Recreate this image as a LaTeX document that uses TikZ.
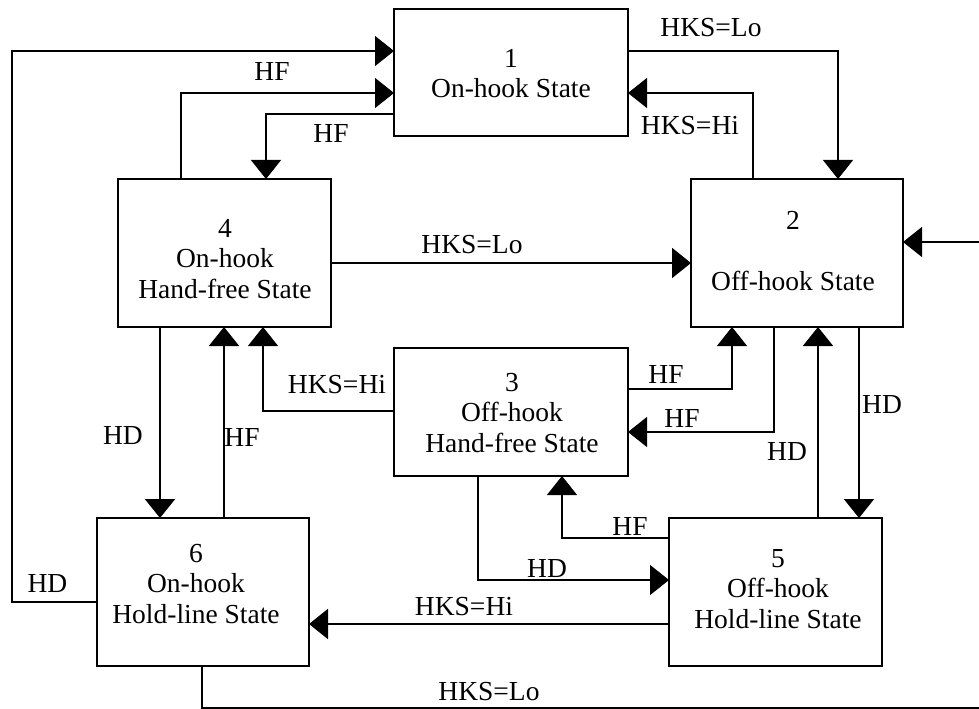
\documentclass[tikz,border=0pt]{standalone}
\usepackage{fontspec}
\setmainfont{Liberation Serif}
\usetikzlibrary{arrows.meta}
\begin{document}
\begin{tikzpicture}[x=1bp,y=-1bp,
  state/.style={draw, rectangle, line width=1.2bp, inner sep=0pt, outer sep=0pt},
  stxt/.style={align=center, anchor=base, inner sep=0pt, font=\fontsize{27.5bp}{30.3bp}\selectfont},
  lbl/.style={anchor=base, inner sep=0pt, font=\fontsize{27.5bp}{30.3bp}\selectfont},
  conn/.style={line width=1.1bp, -{Triangle[length=19bp,width=30bp]}},
  conn2/.style={conn, line width=2bp}]
\useasboundingbox (0,0) rectangle (979,709);
% states
\node[state, minimum width=234bp, minimum height=127bp] (s1) at (511,72.5) {};
\node[state, minimum width=212bp, minimum height=148bp] (s2) at (797,253) {};
\node[state, minimum width=234bp, minimum height=128bp] (s3) at (511,412) {};
\node[state, minimum width=213bp, minimum height=148bp] (s4) at (224.5,253) {};
\node[state, minimum width=213bp, minimum height=148bp] (s5) at (775.5,592) {};
\node[state, minimum width=212bp, minimum height=148bp] (s6) at (203,592) {};
\node[stxt] (x1) at (511,98) {1\\On-hook State};
\node[stxt] (x2) at (793,290) {2\\[30bp]Off-hook State};
\node[stxt] (x3) at (512,452) {3\\Off-hook\\Hand-free State};
\node[stxt] (x4) at (225,298) {4\\On-hook\\Hand-free State};
\node[stxt] (x5) at (778,628) {5\\Off-hook\\Hold-line State};
\node[stxt] (x6) at (196,623) {6\\On-hook\\Hold-line State};
% bend coordinates
\coordinate (cA1) at (12,602); \coordinate (cA2) at (12,51);
\coordinate (cB) at (181,93);
\coordinate (cC) at (266,114);
\coordinate (cD) at (838,51);
\coordinate (cE) at (753,93);
\coordinate (cF) at (0,263);
\coordinate (cG1) at (202,708); \coordinate (cG2) at (995,708); \coordinate (cG3) at (995,242);
\coordinate (cH) at (160,0);
\coordinate (cI) at (224,0);
\coordinate (cJ) at (263,411);
\coordinate (cK) at (732,389);
\coordinate (cL) at (774,432);
\coordinate (cM) at (818,0);
\coordinate (cN) at (859,0);
\coordinate (cO) at (562,538);
\coordinate (cP) at (478,580);
\coordinate (cQ) at (0,624);
% connectors
\draw[conn] (s6.west |- cA1) -- (cA1) -- (cA2) -- (s1.west |- cA2);
\draw[conn] (s4.north -| cB) -- (cB) -- (s1.west |- cB);
\draw[conn] (s1.west |- cC) -- (cC) -- (s4.north -| cC);
\draw[conn] (s1.east |- cD) -- (cD) -- (s2.north -| cD);
\draw[conn] (s2.north -| cE) -- (cE) -- (s1.east |- cE);
\draw[conn2] (s4.east |- cF) -- (s2.west |- cF);
\draw[conn] (s6.south -| cG1) -- (cG1) -- (cG2) -- (cG3) -- (s2.east |- cG3);
\draw[conn2] (s4.south -| cH) -- (s6.north -| cH);
\draw[conn2] (s6.north -| cI) -- (s4.south -| cI);
\draw[conn] (s3.west |- cJ) -- (cJ) -- (s4.south -| cJ);
\draw[conn] (s3.east |- cK) -- (cK) -- (s2.south -| cK);
\draw[conn] (s2.south -| cL) -- (cL) -- (s3.east |- cL);
\draw[conn2] (s5.north -| cM) -- (s2.south -| cM);
\draw[conn2] (s2.south -| cN) -- (s5.north -| cN);
\draw[conn] (s5.west |- cO) -- (cO) -- (s3.south -| cO);
\draw[conn] (s3.south -| cP) -- (cP) -- (s5.west |- cP);
\draw[conn2] (s5.west |- cQ) -- (s6.east |- cQ);
% labels
\node[lbl] (t1) at (47.5,592) {HD};
\node[lbl] (t2) at (272,81) {HF};
\node[lbl] (t3) at (331,143) {HF};
\node[lbl] (t4) at (711,37) {HKS=Lo};
\node[lbl] (t5) at (690,135) {HKS=Hi};
\node[lbl] (t6) at (472,253) {HKS=Lo};
\node[lbl] (t7) at (123,444) {HD};
\node[lbl] (t8) at (242,446) {HF};
\node[lbl] (t9) at (337,393) {HKS=Hi};
\node[lbl] (t10) at (666,383) {HF};
\node[lbl] (t11) at (682,427) {HF};
\node[lbl] (t12) at (787,460) {HD};
\node[lbl] (t13) at (882,413) {HD};
\node[lbl] (t14) at (630,535) {HF};
\node[lbl] (t15) at (547,577) {HD};
\node[lbl] (t16) at (464,615) {HKS=Hi};
\node[lbl] (t17) at (489,700) {HKS=Lo};
\end{tikzpicture}
\end{document}
